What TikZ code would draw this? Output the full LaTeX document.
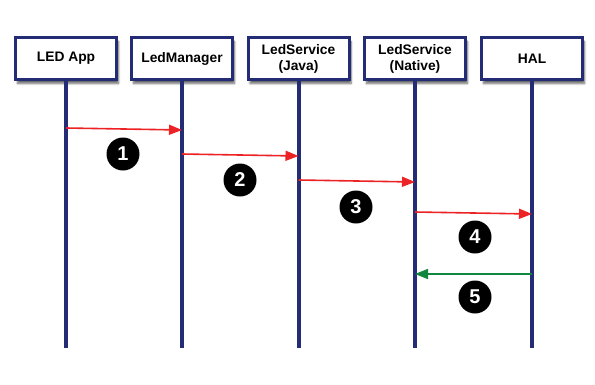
\documentclass[tikz,border=0pt]{standalone}
\usepackage{fontspec}
\setmainfont{Liberation Sans}
\usepackage{tikz}
\usetikzlibrary{positioning,arrows.meta,calc,shadows.blur}
\definecolor{navy}{RGB}{36,44,118}
\definecolor{msgred}{RGB}{236,34,36}
\definecolor{msggreen}{RGB}{16,134,62}
\tikzset{
  actor/.style={draw=navy, fill=white, line width=3pt, minimum width=101pt,
    minimum height=42pt, align=center, inner sep=2pt,
    font=\fontsize{13.8}{16}\selectfont\bfseries,
    blur shadow={shadow xshift=2pt, shadow yshift=-4pt, shadow blur steps=6, shadow opacity=60}},
  life/.style={draw=navy, line width=4pt},
  call/.style={-{Triangle[length=13pt,width=10pt]}, line width=1.6pt, draw=msgred},
  reply/.style={-{Triangle[length=13pt,width=10pt]}, line width=1.6pt, draw=msggreen},
  step num/.style={circle, fill=black, minimum size=33pt, inner sep=0pt,
    text=white, font=\fontsize{20}{20}\selectfont\bfseries},
}
\begin{document}
\begin{tikzpicture}[x=1pt, y=-1pt]
  \useasboundingbox (0,0) rectangle (595,384);
  % participants
  \node[actor] (app) at (66,58.5) {LED App};
  \node[actor] (mgr) at (182,58.5) {LedManager};
  \node[actor] (java) at (298.5,58.5) {LedService\\(Java)};
  \node[actor] (native) at (415,58.5) {LedService\\(Native)};
  \node[actor] (hal) at (532,58.5) {HAL};
  % lifelines
  \foreach \p in {app,mgr,java,native,hal}
    \draw[life] (\p.south) -- (\p.south |- 0,348);
  % messages
  \draw[call] (app |- 0,128) -- (mgr |- 0,130);
  \draw[call] (mgr |- 0,154) -- (java |- 0,156);
  \draw[call] (java |- 0,180) -- (native |- 0,182);
  \draw[call] (native |- 0,212) -- (hal |- 0,214);
  \draw[reply] (hal |- 0,274) -- (native |- 0,274);
  % step numbers
  \node[step num] (s1) at (123,154) {1};
  \node[step num] (s2) at (240,180) {2};
  \node[step num] (s3) at (356,207) {3};
  \node[step num] (s4) at (475,237) {4};
  \node[step num] (s5) at (475,297) {5};
\end{tikzpicture}
\end{document}
